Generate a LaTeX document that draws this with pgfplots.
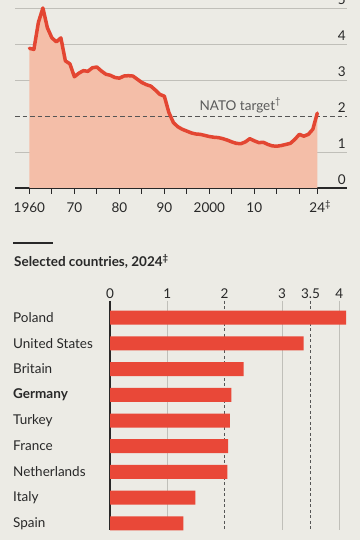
\documentclass[border=0pt]{standalone}
\usepackage{fontspec}
\setmainfont{Lato}
\usepackage{pgfplots}
\usepackage{pgfplotstable}
\pgfplotsset{compat=1.18}
\definecolor{bg}{RGB}{236,235,229}
\definecolor{linered}{RGB}{227,70,50}
\definecolor{fillsal}{RGB}{244,190,168}
\definecolor{barred}{RGB}{233,72,56}
\definecolor{gridgray}{RGB}{192,191,185}
\definecolor{dashgray}{RGB}{85,85,85}
\definecolor{txt}{RGB}{40,40,40}
\definecolor{natotxt}{RGB}{90,90,90}
\newcommand\fs{\fontsize{13.5}{15}\selectfont}

\pgfplotstableread{
year val
1960 3.88
1961 3.85
1962 4.60
1963 5.00
1964 4.45
1965 4.17
1966 4.06
1967 4.17
1968 3.53
1969 3.45
1970 3.09
1971 3.19
1972 3.26
1973 3.24
1974 3.34
1975 3.36
1976 3.25
1977 3.16
1978 3.13
1979 3.07
1980 3.05
1981 3.11
1982 3.12
1983 3.11
1984 3.02
1985 2.93
1986 2.87
1987 2.83
1988 2.72
1989 2.60
1990 2.55
1991 2.10
1992 1.82
1993 1.70
1994 1.63
1995 1.58
1996 1.53
1997 1.50
1998 1.49
1999 1.46
2000 1.43
2001 1.41
2002 1.40
2003 1.37
2004 1.33
2005 1.28
2006 1.24
2007 1.23
2008 1.28
2009 1.37
2010 1.31
2011 1.26
2012 1.27
2013 1.21
2014 1.17
2015 1.16
2016 1.18
2017 1.21
2018 1.24
2019 1.35
2020 1.49
2021 1.44
2022 1.49
2023 1.63
2024 2.08
}\germany

\begin{document}
\begin{tikzpicture}
\useasboundingbox (0pt,0pt) rectangle (360pt,540pt);
\fill[bg] (0pt,0pt) rectangle (360pt,540pt);

% ---------- top chart ----------
\begin{axis}[
  at={(15pt,352pt)}, anchor=south west,
  scale only axis, width=332pt, height=180pt,
  xmin=1956.8, xmax=2030.6, ymin=0, ymax=5,
  axis x line*=bottom, axis y line*=right,
  x axis line style={line width=1.2pt, color=txt},
  y axis line style={draw=none},
  xtick={1960,1965,...,2020,2024},
  xticklabels={1960,,70,,80,,90,,2000,,10,,,24\rlap{\smash{\textsuperscript{‡}}}},
  tick align=outside,
  xtick style={line width=0.9pt, color=txt},
  major tick length=6pt,
  ytick={0,1,3,4,5},
  ytick style={draw=none},
  extra y ticks={2},
  extra y tick style={ymajorgrids=false},
  ymajorgrids,
  grid style={line width=0.8pt, color=gridgray},
  yticklabel style={anchor=south east, inner sep=1pt, xshift=-6pt, yshift=2pt},
  xticklabel style={inner sep=1pt, yshift=-8pt},
  tick label style={font=\fs, text=txt},
  /pgf/number format/assume math mode=true,
  clip=false,
]
\addplot[fill=fillsal, draw=none] table[x=year,y=val]{\germany} \closedcycle;
\draw[dashgray, line width=0.9pt, dash pattern=on 4.5pt off 3pt] (axis cs:1956.8,2) -- (axis cs:2030.6,2);
\addplot[linered, line width=3.5pt, line join=round, line cap=round] table[x=year,y=val]{\germany};
\node[anchor=west, text=natotxt, font=\fs, inner sep=0pt] at (axis cs:1997.8,2.3) {NATO target\textsuperscript{†}};
\end{axis}

% separator and title
\draw[txt, line width=1.2pt] (13pt,297pt) -- (53pt,297pt);
\node[anchor=west, inner sep=0pt, text=txt, font=\bfseries\fs] at (14pt,278.5pt) {Selected countries, 2024\textsuperscript{‡}};

% ---------- bottom chart ----------
\begin{axis}[
  at={(110pt,10pt)}, anchor=south west,
  scale only axis, width=240.7pt, height=229pt,
  xmin=0, xmax=4.2, ymin=-0.65, ymax=8.26, y dir=reverse,
  axis x line*=top, axis y line*=left,
  x axis line style={draw=none},
  y axis line style={line width=1.2pt, color=txt},
  xtick={0,1,3,4},
  xticklabels={0,1,3,4},
  extra x ticks={2,3.5},
  extra x tick labels={2,3.5},
  extra x tick style={grid style={line width=0.9pt, color=dashgray, dash pattern=on 3pt off 2.5pt}},
  xmajorgrids,
  grid style={line width=0.8pt, color=gridgray},
  major tick length=0pt,
  tick style={draw=none},
  xticklabel style={inner sep=1pt, yshift=1pt},
  ytick={0,...,8},
  yticklabels={Poland,United States,Britain,\textbf{Germany},Turkey,France,Netherlands,Italy,Spain},
  yticklabel style={anchor=west, xshift=-97pt, inner sep=0pt},
  tick label style={font=\fs, text=txt},
  clip=false,
]
\addplot[xbar, bar width=14pt, fill=barred, draw=none] coordinates {
 (4.12,0) (3.38,1) (2.33,2) (2.12,3) (2.09,4) (2.06,5) (2.05,6) (1.49,7) (1.28,8)};
\end{axis}
\end{tikzpicture}
\end{document}
